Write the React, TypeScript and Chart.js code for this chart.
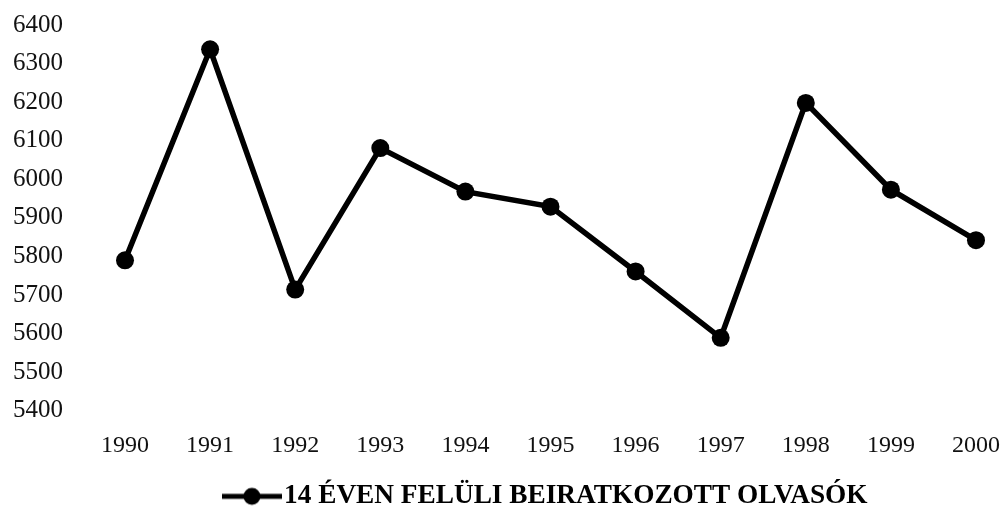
import React, { useEffect, useRef } from "react";
import { Chart, registerables } from "chart.js";

Chart.register(...registerables);

const years = ["1990", "1991", "1992", "1993", "1994", "1995", "1996", "1997", "1998", "1999", "2000"];
const readers = [5790, 6337, 5714, 6081, 5968, 5929, 5761, 5589, 6198, 5973, 5842];
const seriesLabel = "14 ÉVEN FELÜLI BEIRATKOZOTT OLVASÓK";
const yMin = 5400;
const yMax = 6400;
const yStep = 100;

function makeLegendSymbol(): HTMLCanvasElement {
  const c = document.createElement("canvas");
  c.width = 60;
  c.height = 20;
  const ctx = c.getContext("2d")!;
  ctx.strokeStyle = "#000";
  ctx.lineWidth = 5;
  ctx.beginPath();
  ctx.moveTo(0, 10);
  ctx.lineTo(60, 10);
  ctx.stroke();
  ctx.fillStyle = "#000";
  ctx.beginPath();
  ctx.arc(30, 10, 8.5, 0, Math.PI * 2);
  ctx.fill();
  return c;
}

export default function App() {
  const ref = useRef<HTMLCanvasElement | null>(null);

  useEffect(() => {
    if (!ref.current) return;
    const symbol = makeLegendSymbol();
    const chart = new Chart(ref.current, {
      type: "line",
      data: {
        labels: years,
        datasets: [
          {
            label: seriesLabel,
            data: readers,
            borderColor: "#000",
            backgroundColor: "#000",
            borderWidth: 5.5,
            pointRadius: 9,
            pointBackgroundColor: "#000",
            pointBorderColor: "#000",
            pointBorderWidth: 0,
            tension: 0,
          },
        ],
      },
      options: {
        animation: false,
        responsive: true,
        maintainAspectRatio: false,
        layout: { padding: { left: 5, right: 27, top: 25, bottom: 7 } },
        plugins: {
          tooltip: { enabled: false },
          legend: {
            display: true,
            position: "bottom",
            fullSize: false,
            labels: {
              usePointStyle: true,
              pointStyle: symbol as any,
              pointStyleWidth: 37,
              padding: 10,
              color: "#000",
              font: { family: "'Liberation Serif', 'Times New Roman', serif", size: 27.3, weight: "bold" },
            },
          },
        },
        scales: {
          x: {
            offset: false,
            grid: { display: false, drawTicks: false },
            border: { display: false },
            ticks: {
              padding: 21,
              color: "#111",
              autoSkip: false,
              maxRotation: 0,
              font: { family: "'Liberation Serif', 'Times New Roman', serif", size: 24 },
            },
            afterFit: (s: any) => {
              s.height = 62;
              s.paddingLeft = 0;
              s.paddingRight = 0;
            },
          },
          y: {
            min: yMin,
            max: yMax,
            grid: { display: false, drawTicks: false },
            border: { display: false },
            ticks: {
              stepSize: yStep,
              padding: 62,
              color: "#111",
              callback: (v: any) => String(v),
              font: { family: "'Liberation Serif', 'Times New Roman', serif", size: 25 },
            },
            afterFit: (s: any) => {
              s.width = 120;
              s.paddingTop = 0;
              s.paddingBottom = 0;
            },
          },
        },
      },
    });
    return () => chart.destroy();
  }, []);

  return (
    <div style={{ position: "absolute", left: 0, top: 0, width: 1003, height: 527, background: "#fff" }}>
      <canvas ref={ref} />
    </div>
  );
}
